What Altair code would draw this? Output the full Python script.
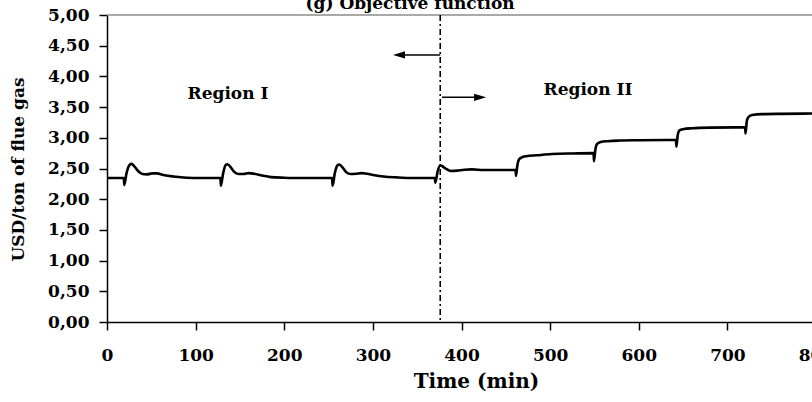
import altair as alt
import pandas as pd

# Objective function trajectory (USD per ton of flue gas) against time in minutes
time_min = [
    0, 19, 19.5, 22, 25, 27.5, 30, 35, 40, 45, 51, 56, 65, 75, 90, 105,
    128, 128.5, 131, 134, 136, 139, 144, 149, 154, 160, 166, 175, 185, 200, 215,
    254, 254.5, 257, 260, 262, 265, 270, 275, 281, 287, 293, 302, 312, 327, 345,
    370, 370.5, 373, 376, 378, 382, 388, 395, 403, 412, 425,
    461, 461.5, 463, 465, 468, 473, 485, 502, 525,
    549, 549.5, 551, 553, 557, 565, 578, 600,
    642, 642.5, 644, 646, 650, 660, 680,
    720, 720.5, 722, 724, 728, 740, 760, 800,
]
cost_usd = [
    2.345, 2.345, 2.23, 2.42, 2.55, 2.575, 2.55, 2.46, 2.41, 2.405, 2.42, 2.42, 2.39, 2.37, 2.35, 2.345,
    2.345, 2.22, 2.42, 2.56, 2.57, 2.53, 2.44, 2.41, 2.41, 2.425, 2.415, 2.385, 2.36, 2.35, 2.345,
    2.345, 2.22, 2.42, 2.55, 2.565, 2.53, 2.44, 2.41, 2.415, 2.425, 2.415, 2.39, 2.37, 2.355, 2.345,
    2.345, 2.27, 2.45, 2.55, 2.54, 2.50, 2.46, 2.465, 2.48, 2.485, 2.475,
    2.475, 2.38, 2.55, 2.65, 2.68, 2.70, 2.715, 2.735, 2.745,
    2.75, 2.62, 2.80, 2.90, 2.93, 2.945, 2.955, 2.96,
    2.965, 2.855, 3.05, 3.12, 3.14, 3.155, 3.165,
    3.17, 3.07, 3.28, 3.34, 3.37, 3.385, 3.39, 3.395,
]

region_boundary = 376
region_names = ["Region I", "Region II"]
region_label_x = [136.5, 542.7]
region_label_y = [3.71, 3.78]

y_ticks = [0, 0.5, 1, 1.5, 2, 2.5, 3, 3.5, 4, 4.5, 5]
x_ticks = [0, 100, 200, 300, 400, 500, 600, 700, 800]

FONT = "DejaVu Serif"

x_scale = alt.Scale(domain=[0, 800], range=[0, 709], nice=False)
y_scale = alt.Scale(domain=[0, 5], nice=False, zero=True)

x_axis = alt.Axis(
    values=x_ticks,
    grid=False,
    domainColor="black",
    domainWidth=1.5,
    tickColor="black",
    tickWidth=1.5,
    tickSize=8,
    labelFont=FONT,
    labelFontWeight="bold",
    labelFontSize=17,
    labelColor="black",
    labelPadding=17,
    labelFlush=False,
    labelOverlap=False,
    title="Time (min)",
    titleFont=FONT,
    titleFontWeight="bold",
    titleFontSize=20,
    titleColor="black",
    titleX=369,
    titleY=65,
    titleAlign="center",
    titleBaseline="alphabetic",
    titleAnchor="start",
)

y_axis = alt.Axis(
    values=y_ticks,
    grid=False,
    labelExpr="replace(format(datum.value, '.2f'), '.', ',')",
    domainColor="black",
    domainWidth=1.5,
    tickColor="black",
    tickWidth=1.5,
    tickSize=8,
    labelFont=FONT,
    labelFontWeight="bold",
    labelFontSize=17,
    labelColor="black",
    labelPadding=10,
    labelOverlap=False,
    title="USD/ton of flue gas",
    titleFont=FONT,
    titleFontWeight="bold",
    titleFontSize=17,
    titleColor="black",
    titleX=-89,
    titleY=154,
    titleAlign="center",
    titleBaseline="middle",
    titleAnchor="start",
    titleAngle=270,
)


def xq(field):
    return alt.X(field, scale=x_scale, axis=x_axis)


def yq(field):
    return alt.Y(field, scale=y_scale, axis=y_axis)


series = pd.DataFrame({"t": time_min, "v": cost_usd})

line = alt.Chart(series).mark_line(
    color="black", strokeWidth=2.6, interpolate="monotone"
).encode(x=xq("t:Q"), y=yq("v:Q"))

# upper frame edge of the plot area
frame_top = alt.Chart(pd.DataFrame({"v": [5]})).mark_rule(
    color="#8c8c8c", strokeWidth=1.5
).encode(y=yq("v:Q"))

# boundary between the two regions
boundary = alt.Chart(pd.DataFrame({"t": [region_boundary]})).mark_rule(
    color="black", strokeWidth=1.6, strokeDash=[6, 3, 2, 3]
).encode(x=xq("t:Q"))

arrows = pd.DataFrame({
    "t0": [region_boundary, region_boundary + 2],
    "t1": [330, 421],
    "v": [4.35, 3.66],
})
arrow_shafts = alt.Chart(arrows).mark_rule(color="black", strokeWidth=1.5).encode(
    x=xq("t0:Q"),
    x2="t1:Q",
    y=yq("v:Q"),
)

left_head = alt.Chart(pd.DataFrame({"t": [329.5], "v": [4.35]})).mark_point(
    shape="M -1 0 L 1 -0.6 L 1 0.6 Z", size=144, filled=True, color="black", opacity=1
).encode(x=xq("t:Q"), y=yq("v:Q"))

right_head = alt.Chart(pd.DataFrame({"t": [421], "v": [3.66]})).mark_point(
    shape="M 1 0 L -1 -0.6 L -1 0.6 Z", size=144, filled=True, color="black", opacity=1
).encode(x=xq("t:Q"), y=yq("v:Q"))

labels = alt.Chart(
    pd.DataFrame({"name": region_names, "t": region_label_x, "v": region_label_y})
).mark_text(
    font=FONT, fontWeight="bold", fontSize=17, color="black", align="center", baseline="middle"
).encode(
    x=xq("t:Q"),
    y=yq("v:Q"),
    text="name:N",
)

heading = alt.Chart(pd.DataFrame({"t": [342], "v": [5.105], "s": ["(g) Objective function"]})).mark_text(
    font=FONT, fontWeight="bold", fontSize=17, color="black", align="center", baseline="alphabetic"
).encode(
    x=xq("t:Q"),
    y=yq("v:Q"),
    text="s:N",
)

chart = alt.layer(
    line, frame_top, boundary, arrow_shafts, left_head, right_head, labels, heading
).properties(
    width=705,
    height=307,
    autosize=alt.AutoSizeParams(type="none"),
    padding={"left": 107, "top": 15, "right": 0, "bottom": 80},
    background="white",
).configure_view(stroke=None)

chart.save("out.html", embed_options={"renderer": "svg", "actions": False})
